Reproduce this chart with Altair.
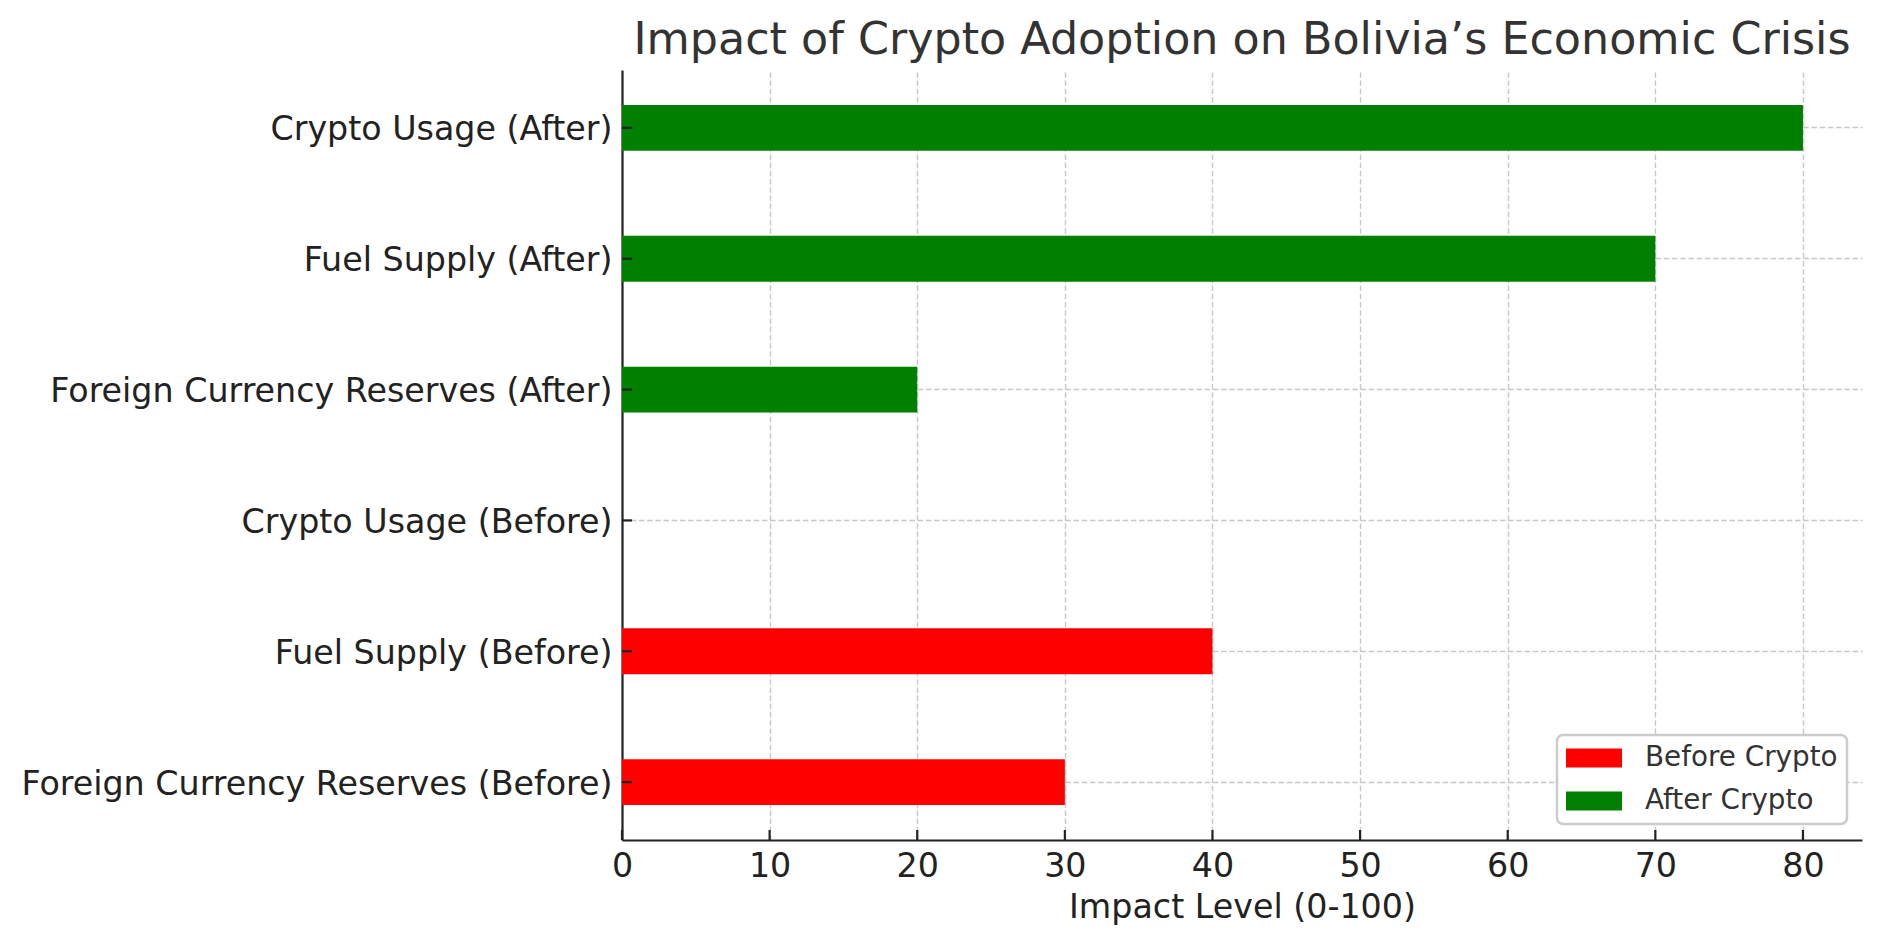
import altair as alt
import pandas as pd

# ---- data ----
metrics = ["Foreign Currency Reserves", "Fuel Supply", "Crypto Usage"]
before_values = [30, 40, 0]
after_values = [20, 70, 80]
periods = ["Before Crypto", "After Crypto"]
period_colors = ["#ff0000", "#008000"]
x_ticks = [0, 10, 20, 30, 40, 50, 60, 70, 80]

rows = []
for m, v in zip(metrics, before_values):
    rows.append({"label": f"{m} (Before)", "value": v, "period": "Before Crypto"})
for m, v in zip(metrics, after_values):
    rows.append({"label": f"{m} (After)", "value": v, "period": "After Crypto"})
df = pd.DataFrame(rows)
order = [r["label"] for r in rows][::-1]

FONT = "DejaVu Sans"
W, H = 1240, 770

x_scale = alt.Scale(domain=[0, 84], nice=False, zero=True)
y_scale = alt.Scale(paddingInner=0.65, paddingOuter=0.2675)

bars = alt.Chart(df).mark_bar().encode(
    x=alt.X("value:Q", scale=x_scale,
            axis=alt.Axis(values=x_ticks, title="Impact Level (0-100)", format="d",
                          titlePadding=9, labelFlush=False, grid=True)),
    y=alt.Y("label:N", sort=order, scale=y_scale,
            axis=alt.Axis(title=None, bandPosition=0.5, labelOffset=2.5, grid=True)),
    color=alt.Color("period:N",
                    scale=alt.Scale(domain=periods, range=period_colors),
                    legend=alt.Legend(
                        title=None, orient="none", legendX=935, legendY=665,
                        symbolType="M-1,-0.68H3V0.68H-1Z", symbolSize=784,
                        symbolStrokeWidth=0, symbolOpacity=1,
                        labelFont=FONT, labelFontSize=27.8, labelColor="#333333",
                        labelOffset=51, labelLimit=400,
                        padding=9, rowPadding=15,
                        strokeColor="#cccccc", cornerRadius=6,
                        fillColor="white")),
)

# inward tick marks (matplotlib style)
xtick_df = pd.DataFrame({"value": x_ticks})
xticks = alt.Chart(xtick_df).mark_rule(color="#222222", strokeWidth=2.2).encode(
    x=alt.X("value:Q", scale=x_scale),
    y=alt.value(H - 10), y2=alt.value(H),
)
ytick_df = pd.DataFrame({"label": order})
yticks = alt.Chart(ytick_df).mark_rule(color="#222222", strokeWidth=2.2).encode(
    y=alt.Y("label:N", sort=order, scale=y_scale),
    x=alt.value(0), x2=alt.value(10),
)

chart = alt.layer(bars, xticks, yticks).properties(
    width=W, height=H,
    autosize=alt.AutoSizeParams(type="none"),
    padding={"left": 622, "top": 70, "right": 20, "bottom": 107},
    title=alt.Title("Impact of Crypto Adoption on Bolivia’s Economic Crisis",
                    font=FONT, fontSize=44.4, fontWeight="normal", color="#333333",
                    anchor="middle", frame="group", baseline="alphabetic", offset=-28),
).configure_axis(
    labelFont=FONT, labelFontSize=33.3, labelColor="#222222", labelLimit=800,
    titleFont=FONT, titleFontSize=33.3, titleColor="#222222", titleFontWeight="normal",
    domainColor="#222222", domainWidth=2.2, ticks=False, tickSize=0, labelPadding=10,
    gridColor="#c8c8c8", gridDash=[5.5, 2.7], gridWidth=1.4, zindex=1,
).configure_legend(
    strokeWidth=2.5,
).configure_view(stroke="transparent")

chart.save("out.html", embed_options={"renderer": "svg", "actions": False})
